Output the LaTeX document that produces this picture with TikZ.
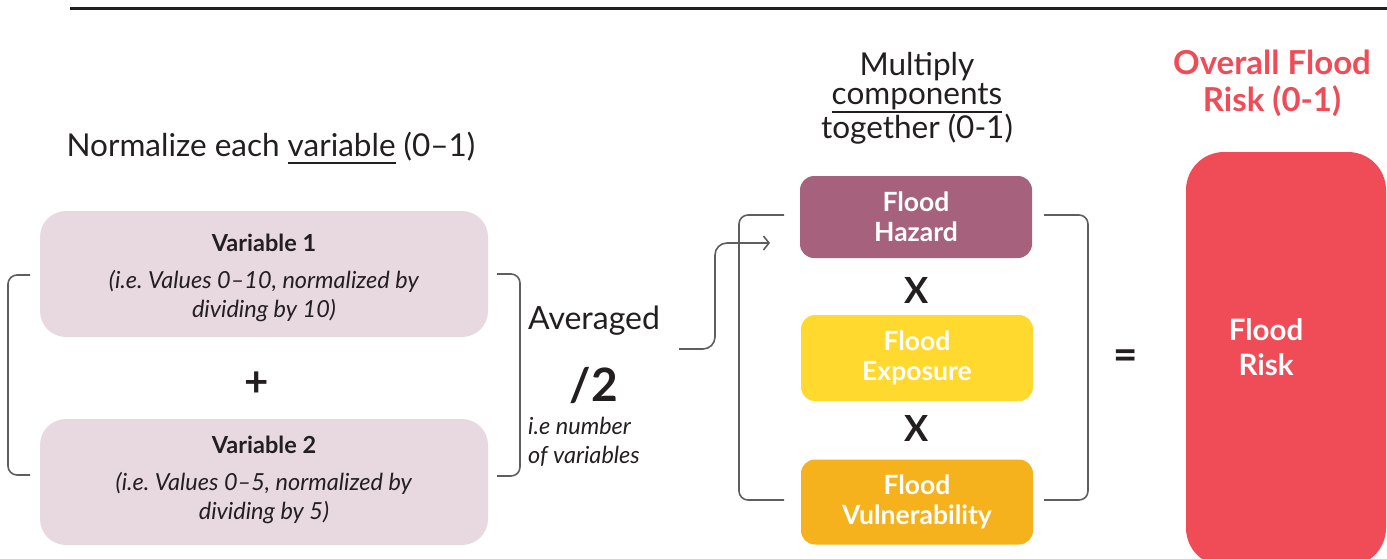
\documentclass[tikz,border=0pt]{standalone}
\usepackage{fontspec}
\setmainfont{Lato}
\usetikzlibrary{arrows.meta}
\frenchspacing

\definecolor{ink}{HTML}{231F20}
\definecolor{linegray}{HTML}{5E5E5E}
\definecolor{varpink}{HTML}{E8D8DF}
\definecolor{hazard}{HTML}{A6627D}
\definecolor{exposure}{HTML}{FFD92E}
\definecolor{vulner}{HTML}{F5B21C}
\definecolor{riskred}{HTML}{F04C58}

% underline a word with a rule #1 below the baseline
\newcommand\ulword[2]{\setbox0=\hbox{#2}\leavevmode\rlap{\rule[-#1]{\wd0}{1.5pt}}\box0\relax}
\newcommand\fsz[2]{\fontsize{#1}{#2}\selectfont}

\begin{document}
\begin{tikzpicture}[x=1pt,y=-1pt,
  txt/.style={inner sep=0pt, text=ink},
  varbox/.style={fill=varpink, rounded corners=26pt, minimum width=448pt,
    minimum height=126pt, inner sep=0pt, align=center, text=ink,
    font=\fsz{23.5}{29}},
  floodbox/.style={rounded corners=14pt, minimum width=232pt, inner sep=0pt,
    align=center, text=white, font=\fsz{26.5}{30}\bfseries},
  bracket/.style={draw=linegray, line width=1.6pt, rounded corners=9pt},
  op/.style={inner sep=0pt, text=ink},
]
\useasboundingbox (0,0) rectangle (1387,558);
\clip (0,0) rectangle (1387,558);

% top rule
\coordinate (ruleL) at (70,8);
\coordinate (ruleR) at (1387,8);
\draw[ink, line width=3pt] (ruleL) -- (ruleR);

% ---- step 1: normalise the variables
\node[txt, font=\fsz{31.5}{32}] (normhead) at (271,148)
  {Normalize each \ulword{7pt}{variable} (0–1)};

\node[varbox] (var1) at (264,274) {};
\node[txt, font=\fsz{23.5}{29}, align=center] (var1text) at (var1.center)
  [yshift=-4pt]
  {\textbf{Variable 1}\\[8pt]
   \textit{(i.e. Values 0–10, normalized by}\\ \textit{dividing by 10)}};
\node[op, font=\fsz{42}{44}\bfseries] (plus) at (257,384) {+};
\node[varbox] (var2) at (264,482) {};
\node[txt, font=\fsz{23.5}{29}, align=center] (var2text) at (var2.center)
  [yshift=2pt]
  {\textbf{Variable 2}\\[8pt]
   \textit{(i.e. Values 0–5, normalized by}\\ \textit{dividing by 5)}};

% brackets round the two variables
\coordinate (lbTop) at (30,275);
\coordinate (lbBot) at (30,475);
\draw[bracket] (lbTop) -- (8,275) -- (8,475) -- (lbBot);
\coordinate (rbTop) at (497,274);
\coordinate (rbBot) at (497,476);
\draw[bracket] (rbTop) -- (520,274) -- (520,476) -- (rbBot);

% ---- step 2: average
\node[txt, font=\fsz{32}{32}] (avg) at (594,321) {Averaged};
\node[txt, font=\fsz{46}{46}\bfseries] (div) at (594,385) {/2};
\node[txt, font=\fsz{23.5}{29}\itshape, align=left, anchor=west] (avgnote) at (528,442)
  {i.e number\\of variables};

% arrow into the components
\coordinate (avgOut) at (679,349);
\coordinate (hazIn) at (770,243);
\draw[linegray, line width=1.6pt, rounded corners=12pt,
  -{Straight Barb[length=5.5pt,width=14pt,line width=1.6pt]}]
  (avgOut) -- (715,349) -- (715,243) -- (hazIn);

% ---- step 3: multiply components
\node[txt, font=\fsz{31.5}{29}, align=center] (multhead) at (917,98)
  {Multiply\\ \ulword{8.5pt}{components}\\ together (0-1)};

\node[floodbox, fill=hazard, minimum height=82pt] (hazardbox) at (916,217)
  {Flood\\Hazard};
\node[op, font=\fsz{36}{36}\bfseries] (times1) at (917,290) {X};
\node[floodbox, fill=exposure, minimum height=86pt] (exposurebox) at (917,358)
  {Flood\\Exposure};
\node[op, font=\fsz{36}{36}\bfseries] (times2) at (917,428) {X};
\node[floodbox, fill=vulner, minimum height=85pt] (vulnerbox) at (917,502)
  {Flood\\Vulnerability};

% brackets round the three components
\coordinate (mlTop) at (784,215);
\coordinate (mlBot) at (784,500);
\draw[bracket] (mlTop) -- (739,215) -- (739,500) -- (mlBot);
\coordinate (mrTop) at (1044,215);
\coordinate (mrBot) at (1044,500);
\draw[bracket] (mrTop) -- (1088,215) -- (1088,500) -- (mrBot);

% ---- result
\node[op, font=\fsz{42}{42}\bfseries] (equals) at (1126,360) {=};
\node[txt, text=riskred, font=\fsz{33}{37}\bfseries, align=center] (riskhead) at (1272,83)
  {Overall Flood\\Risk (0-1)};
\node[fill=riskred, rounded corners=38pt, minimum width=200pt, minimum height=414pt,
  inner sep=0pt] (riskbox) at (1286,359) {};
\node[txt, text=white, font=\fsz{29.5}{35}\bfseries, align=center] (risktext) at (1266,347)
  {Flood\\Risk};
\end{tikzpicture}
\end{document}
